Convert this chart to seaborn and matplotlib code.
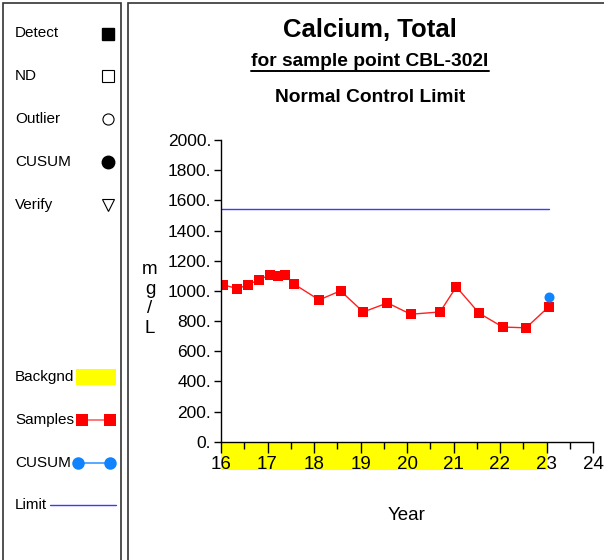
import numpy as np
import pandas as pd
import matplotlib
matplotlib.use("Agg")
import matplotlib.pyplot as plt
import matplotlib.patches as mpatches
import matplotlib.transforms as mtransforms
from matplotlib.lines import Line2D
import seaborn as sns

# data
years = [16.05, 16.35, 16.57, 16.82, 17.05, 17.22, 17.37, 17.57, 18.11, 18.57,
         19.06, 19.58, 20.08, 20.71, 21.06, 21.55, 22.06, 22.56, 23.05]
calcium = [1040, 1015, 1038, 1075, 1105, 1100, 1107, 1045, 940, 1000,
           860, 920, 845, 860, 1027, 852, 760, 755, 895]
cusum_year = [23.05]
cusum_val = [962]
limit_value = 1545
limit_span = [16.0, 23.05]
background_span = [16.0, 23.0]
y_ticks = [0, 200, 400, 600, 800, 1000, 1200, 1400, 1600, 1800, 2000]
x_ticks = [16, 17, 18, 19, 20, 21, 22, 23, 24]

sns.set_style("white")
plt.rcParams['font.family'] = ['Liberation Sans', 'DejaVu Sans']
plt.rcParams['text.color'] = 'black'
plt.rcParams['xtick.color'] = 'black'
plt.rcParams['ytick.color'] = 'black'
plt.rcParams['axes.labelcolor'] = 'black'

df = pd.DataFrame({"Year": years, "Calcium": calcium})

fig = plt.figure(figsize=(6.04, 5.6), dpi=100)
W, H = 604, 560

def fx(px):
    return px / W

def fy(py):
    return 1 - py / H

# panel borders
fig.patches.append(mpatches.Rectangle((fx(3), fy(562)), fx(118), 559 / H, transform=fig.transFigure,
                                      fill=False, edgecolor="#333333", linewidth=1.2))
fig.patches.append(mpatches.Rectangle((fx(128), fy(562)), fx(480), 559 / H, transform=fig.transFigure,
                                      fill=False, edgecolor="#333333", linewidth=1.2))

ax = fig.add_axes([fx(221), fy(441.7), fx(593 - 221), (441.7 - 140) / H])

ax.plot(limit_span, [limit_value, limit_value], color="#3a3aff", linewidth=1)
sns.lineplot(data=df, x="Year", y="Calcium", ax=ax, color="#ff2020", linewidth=1,
             marker="s", markersize=6.5, markeredgewidth=0, markerfacecolor="red",
             estimator=None, sort=False)
sns.scatterplot(x=cusum_year, y=cusum_val, ax=ax, color="#1084ff", s=52, linewidth=0, zorder=5)

ax.set_xlim(16, 24)
ax.set_ylim(0, 2000)
ax.set_yticks(y_ticks)
ax.set_yticklabels([f"{v}." for v in y_ticks], fontsize=12.5)
ax.set_xticks(x_ticks)
ax.set_xticklabels([str(v) for v in x_ticks], fontsize=13.5)
ax.set_xticks(np.arange(16.5, 24, 1.0), minor=True)
ax.tick_params(axis="y", direction="out", length=5, width=1, color="black", pad=2, left=True)
ax.tick_params(axis="x", which="major", direction="out", length=8, width=1, color="black", pad=2, bottom=True)
ax.tick_params(axis="x", which="minor", direction="out", length=5, width=1, color="black", bottom=True)
ax.set_xlabel("")
ax.set_ylabel("")
for s in ["top", "right"]:
    ax.spines[s].set_visible(False)
for s in ["left", "bottom"]:
    ax.spines[s].set_color("black")
    ax.spines[s].set_linewidth(1)

# yellow background band under the axis
trans = mtransforms.blended_transform_factory(ax.transData, ax.transAxes)
band = mpatches.Rectangle((background_span[0], -28 / 301.7), background_span[1] - background_span[0], 28 / 301.7,
                          transform=trans, facecolor="yellow", edgecolor="none", clip_on=False, zorder=0)
ax.add_patch(band)
ax.set_axisbelow(False)

# titles
fig.text(fx(370), fy(30), "Calcium, Total", ha="center", va="center", fontsize=18.5, fontweight="bold")
sub = fig.text(fx(370), fy(62), "for sample point CBL-302I", ha="center", va="center",
               fontsize=13.8, fontweight="bold")
fig.text(fx(370), fy(97), "Normal Control Limit", ha="center", va="center", fontsize=13.8, fontweight="bold")
fig.canvas.draw()
bb = sub.get_window_extent().transformed(fig.transFigure.inverted())
fig.add_artist(Line2D([bb.x0, bb.x1], [fy(71), fy(71)], transform=fig.transFigure, color="black", linewidth=1.4))

fig.text(fx(150), fy(299), "m\ng\n/\nL", ha="center", va="center", fontsize=13.5, linespacing=1.2)
fig.text(fx(407), fy(515), "Year", ha="center", va="center", fontsize=13.5)

# left legend panel
leg_items = [("Detect", 33), ("ND", 76), ("Outlier", 119), ("CUSUM", 162), ("Verify", 205),
             ("Backgnd", 377), ("Samples", 420), ("CUSUM", 463), ("Limit", 505)]
for label, py in leg_items:
    fig.text(fx(15), fy(py), label, ha="left", va="center", fontsize=11)

def sym(x, y, **kw):
    fig.add_artist(Line2D([fx(x)], [fy(y)], transform=fig.transFigure, linestyle="none", **kw))

sym(108, 34, marker="s", markersize=8, color="black")
sym(108, 76, marker="s", markersize=9, markerfacecolor="white", markeredgecolor="black", markeredgewidth=0.8)
sym(108, 119, marker="o", markersize=8, markerfacecolor="white", markeredgecolor="black", markeredgewidth=0.8)
sym(108, 162, marker="o", markersize=9, color="black")
sym(108, 205, marker="v", markersize=9, markerfacecolor="white", markeredgecolor="black", markeredgewidth=0.8)

fig.patches.append(mpatches.Rectangle((fx(76), fy(385)), fx(40), 16 / H, transform=fig.transFigure,
                                      facecolor="yellow", edgecolor="none"))
fig.add_artist(Line2D([fx(82), fx(110)], [fy(420), fy(420)], transform=fig.transFigure,
                      color="#ff6060", linewidth=1.2, marker="s", markersize=9,
                      markerfacecolor="red", markeredgewidth=0))
fig.add_artist(Line2D([fx(78), fx(110)], [fy(463), fy(463)], transform=fig.transFigure,
                      color="#3a9bff", linewidth=1.2, marker="o", markersize=9,
                      markerfacecolor="#1084ff", markeredgewidth=0))
fig.add_artist(Line2D([fx(50), fx(116)], [fy(505), fy(505)], transform=fig.transFigure,
                      color="#3a3aff", linewidth=1))

fig.savefig("out.png", dpi=100)
